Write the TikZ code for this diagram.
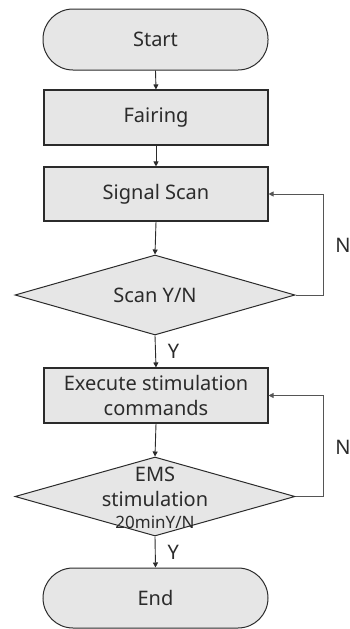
\documentclass[tikz,border=0pt]{standalone}
\usepackage{fontspec}
\setmainfont{Noto Sans}
\usetikzlibrary{shapes.geometric,arrows.meta}
\definecolor{boxfill}{HTML}{E6E6E6}
\definecolor{boxline}{HTML}{2B2B2B}
\definecolor{fbline}{HTML}{555555}
\begin{document}
\begin{tikzpicture}[x=1pt,y=-1pt,
  every node/.style={font=\fontsize{20}{25}\selectfont, text=boxline},
  term/.style={draw=boxline, line width=1pt, fill=boxfill, rounded corners=30pt, minimum width=225pt, minimum height=61pt, inner sep=0pt},
  proc/.style={draw=boxline, line width=1.1pt, fill=boxfill, minimum width=224pt, minimum height=55pt, inner sep=0pt, align=center},
  dec/.style={draw=boxline, line width=1pt, fill=boxfill, shape=diamond, minimum width=280pt, minimum height=80pt, inner sep=0pt},
  flow/.style={draw=boxline, line width=0.9pt, -{Triangle[length=5pt,width=5pt]}},
  fb/.style={draw=fbline, line width=0.8pt, -{Triangle[length=5pt,width=5pt]}},
  lbl/.style={inner sep=0pt}]
\useasboundingbox (0,0) rectangle (350,629);
\node[term] (start) at (155.5,39.5) {Start};
\node[proc] (fair) at (156,117.5) {Fairing};
\node[proc, minimum height=54pt] (scan) at (156,194) {Signal Scan};
\node[dec] (d1) at (155,295) {};
\node[lbl] (t1) at (155,295) {Scan Y/N};
\node[proc] (exec) at (156,395.5) {Execute stimulation\\commands};
\node[dec, minimum height=79pt] (d2) at (155,496.5) {};
\node[lbl, align=center] (t2) at (155,498) {EMS\\stimulation\\[-3pt]\fontsize{17}{20}\selectfont 20minY/N};
\node[term, minimum height=60pt, rounded corners=30pt] (end) at (155.5,598) {End};
\coordinate (r1) at (323,295);
\coordinate (r2) at (323,496.5);
\draw[flow] (start.south) -- (fair.north);
\draw[flow] (fair.south) -- (scan.north);
\draw[flow] (scan.south) -- (d1.north);
\draw[flow] (d1.south) -- node[lbl, right=12pt] (y1) {Y} (exec.north);
\draw[flow] (exec.south) -- (d2.north);
\draw[flow] (d2.south) -- node[lbl, right=12pt] (y2) {Y} (end.north);
\draw[fb] (d1.east) -- (r1) |- (scan.east);
\draw[fb] (d2.east) -- (r2) |- (exec.east);
\node[lbl] (n1) at (343,245) {N};
\node[lbl] (n2) at (343,447) {N};
\end{tikzpicture}
\end{document}
